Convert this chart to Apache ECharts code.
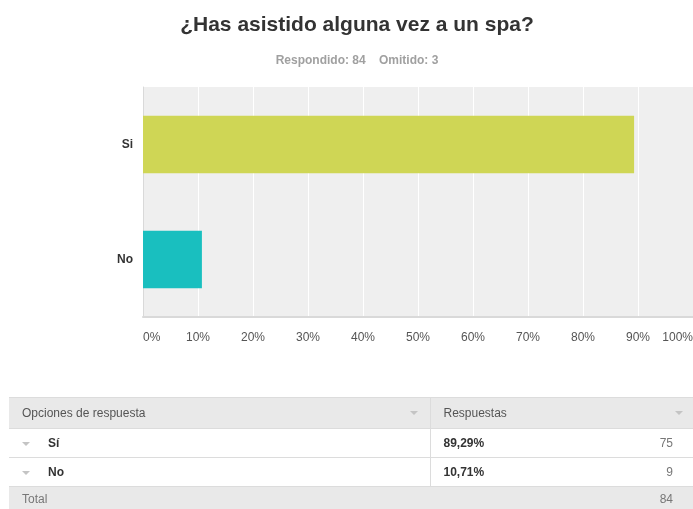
<!DOCTYPE html>
<html>
<head>
<meta charset="utf-8">
<script src="https://cdn.jsdelivr.net/npm/echarts@6/dist/echarts.min.js"></script>
<style>
  html, body { margin: 0; padding: 0; background: #fff; overflow: hidden; }
  #wrap { width: 693px; height: 509px; position: relative; overflow: hidden; }
  #main { width: 693px; height: 509px; position: absolute; left: 0; top: 0; }
  #tabla {
    position: absolute; left: 9px; top: 397px; width: 684px;
    border-collapse: collapse; font-family: "Liberation Sans", Arial, sans-serif;
    font-size: 12px; color: #444; table-layout: fixed;
  }
  #tabla td { padding: 0 13px; border-top: 1px solid #dcdcdc; white-space: nowrap; }
  #tabla tr.cab td { background: #e9e9e9; height: 30px; color: #555; }
  #tabla tr.fila td { background: #fff; height: 28px; }
  #tabla tr.total td { background: #e9e9e9; height: 24px; color: #777; }
  #tabla td.col2 { border-left: 1px solid #dcdcdc; }
  .tri {
    display: inline-block; width: 0; height: 0; vertical-align: middle;
    border-left: 4px solid transparent; border-right: 4px solid transparent;
    border-top: 4px solid #c4c4c4;
  }
  .der { float: right; }
  .b { font-weight: bold; color: #333; }
</style>
</head>
<body>
<div id="wrap">
  <div id="main"></div>
  <table id="tabla"></table>
</div>
<script>
  // datos de la encuesta
  const categorias = ['Sí', 'No']
  const etiquetasEje = ['Si', 'No']
  const porcentajes = [89.29, 10.71]
  const respuestas = [75, 9]
  const colores = ['#cfd655', '#19bfbf']
  const totalRespondido = 84
  const omitido = 3

  const chart = echarts.init(document.getElementById('main'), null, { renderer: 'canvas' })

  chart.setOption({
    animation: false,
    title: [{
      text: '¿Has asistido alguna vez a un spa?',
      left: 352,
      top: 10,
      textAlign: 'center',
      textStyle: {
        fontFamily: 'Liberation Sans',
        fontSize: 21,
        fontWeight: 'bold',
        color: '#333'
      }
    }, {
      text: 'Respondido: ' + totalRespondido + '    Omitido: ' + omitido,
      left: 352,
      top: 50,
      textAlign: 'center',
      textStyle: {
        fontFamily: 'Liberation Sans',
        fontSize: 12,
        fontWeight: 'bold',
        color: '#a0a0a0'
      }
    }],
    grid: {
      left: 143,
      right: 0,
      top: 87,
      bottom: 192,
      outerBoundsMode: 'none',
      containLabel: false,
      show: true,
      backgroundColor: '#efefef',
      borderWidth: 0
    },
    xAxis: {
      type: 'value',
      min: 0,
      max: 100,
      interval: 10,
      axisLine: { show: true, lineStyle: { color: '#d9d9d9', width: 2 } },
      axisTick: { show: false },
      splitLine: { show: true, lineStyle: { color: '#ffffff', width: 1 } },
      axisLabel: {
        formatter: '{value}%',
        align: 'center',
        alignMinLabel: 'left',
        alignMaxLabel: 'right',
        margin: 15,
        color: '#555',
        fontSize: 12,
        fontFamily: 'Liberation Sans'
      }
    },
    yAxis: {
      type: 'category',
      inverse: true,
      data: etiquetasEje,
      axisLine: { show: true, lineStyle: { color: '#d9d9d9', width: 1 } },
      axisTick: { show: false },
      splitLine: { show: false },
      axisLabel: {
        margin: 10,
        color: '#333',
        fontSize: 12,
        fontWeight: 'bold',
        fontFamily: 'Liberation Sans'
      }
    },
    series: [{
      type: 'bar',
      barWidth: '50%',
      data: porcentajes.map((v, i) => ({ value: v, itemStyle: { color: colores[i] } })),
      silent: true
    }]
  })

  // tabla de respuestas
  const fmt = v => v.toFixed(2).replace('.', ',') + '%'
  let html = '<colgroup><col style="width:421px"><col style="width:263px"></colgroup>'
  html += '<tr class="cab"><td>Opciones de respuesta<span class="tri der" style="margin-top:5px;margin-right:-1px"></span></td>' +
    '<td class="col2">Respuestas<span class="tri der" style="margin-top:5px;margin-right:-3px"></span></td></tr>'
  categorias.forEach((c, i) => {
    html += '<tr class="fila"><td><span class="tri" style="margin-right:18px"></span><span class="b">' + c + '</span></td>' +
      '<td class="col2"><span class="b">' + fmt(porcentajes[i]) + '</span><span class="der" style="margin-right:7px;color:#777">' + respuestas[i] + '</span></td></tr>'
  })
  html += '<tr class="total"><td colspan="2">Total<span class="der" style="margin-right:7px">' + totalRespondido + '</span></td></tr>'
  document.getElementById('tabla').innerHTML = html
</script>
</body>
</html>
